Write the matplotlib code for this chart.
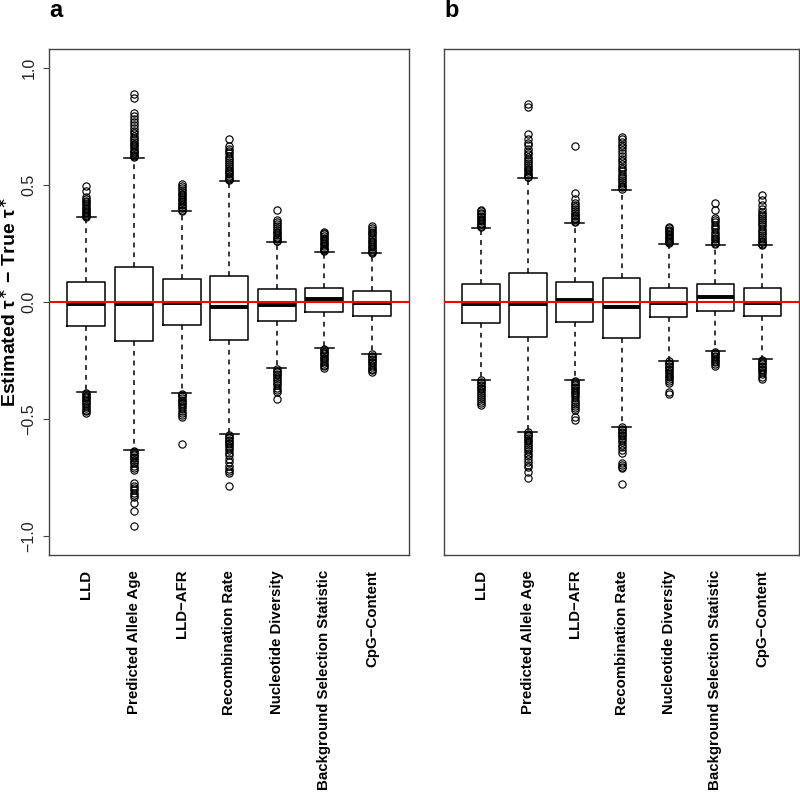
import matplotlib
matplotlib.use("Agg")
import matplotlib.pyplot as plt

plt.rcParams["font.family"] = ["Liberation Sans", "DejaVu Sans"]
plt.rcParams["mathtext.fontset"] = "dejavusans"

categories = [
    "LLD",
    "Predicted Allele Age",
    "LLD\u2212AFR",
    "Recombination Rate",
    "Nucleotide Diversity",
    "Background Selection Statistic",
    "CpG\u2212Content",
]

# panel a: box statistics
a_q1 = [-0.103, -0.166, -0.099, -0.161, -0.082, -0.045, -0.060]
a_med = [-0.009, -0.009, -0.005, -0.023, -0.013, 0.011, -0.006]
a_q3 = [0.083, 0.147, 0.096, 0.109, 0.053, 0.061, 0.046]
a_lo = [-0.384, -0.633, -0.389, -0.566, -0.284, -0.197, -0.221]
a_hi = [0.361, 0.616, 0.388, 0.516, 0.257, 0.214, 0.207]
a_fliers = [
    [0.495, 0.472, 0.449, 0.44, 0.432, 0.425, 0.418, 0.41, 0.403, 0.396, 0.39, 0.384, 0.378, 0.372, 0.367, 0.363,
     -0.39, -0.395, -0.40, -0.406, -0.412, -0.418, -0.424, -0.43, -0.437, -0.444, -0.452, -0.46, -0.468, -0.476],
    [0.888, 0.869, 0.808, 0.795, 0.78, 0.768, 0.755, 0.742, 0.73, 0.72, 0.71, 0.70, 0.692, 0.684, 0.676, 0.668,
     0.66, 0.653, 0.646, 0.64, 0.634, 0.628, 0.622, 0.618,
     -0.637, -0.643, -0.65, -0.656, -0.662, -0.668, -0.675, -0.682, -0.69, -0.70, -0.71, -0.718,
     -0.775, -0.785, -0.795, -0.805, -0.815, -0.825, -0.835, -0.86, -0.895, -0.957],
    [0.503, 0.495, 0.487, 0.478, 0.47, 0.462, 0.455, 0.448, 0.441, 0.434, 0.427, 0.42, 0.413, 0.406, 0.4, 0.394, 0.39,
     -0.392, -0.398, -0.404, -0.41, -0.417, -0.424, -0.431, -0.438, -0.446, -0.455, -0.465, -0.475, -0.485, -0.493,
     -0.608],
    [0.694, 0.665, 0.655, 0.645, 0.634, 0.624, 0.614, 0.605, 0.596, 0.588, 0.58, 0.572, 0.565, 0.558, 0.551, 0.544,
     0.537, 0.53, 0.524, 0.519,
     -0.57, -0.576, -0.582, -0.588, -0.595, -0.602, -0.609, -0.617, -0.625, -0.634, -0.644, -0.656, -0.67, -0.685,
     -0.70, -0.712, -0.722, -0.732, -0.785],
    [0.391, 0.35, 0.34, 0.331, 0.322, 0.314, 0.306, 0.299, 0.292, 0.285, 0.279, 0.273, 0.267, 0.262, 0.259,
     -0.288, -0.294, -0.3, -0.307, -0.314, -0.321, -0.329, -0.337, -0.346, -0.356, -0.366, -0.376, -0.384, -0.415],
    [0.300, 0.294, 0.288, 0.281, 0.274, 0.267, 0.26, 0.253, 0.246, 0.239, 0.232, 0.226, 0.22, 0.216,
     -0.2, -0.206, -0.212, -0.218, -0.224, -0.231, -0.238, -0.245, -0.252, -0.26, -0.268, -0.276, -0.284],
    [0.325, 0.316, 0.308, 0.3, 0.292, 0.284, 0.276, 0.268, 0.261, 0.254, 0.247, 0.24, 0.233, 0.226, 0.219, 0.213, 0.209,
     -0.224, -0.23, -0.236, -0.242, -0.249, -0.256, -0.263, -0.27, -0.278, -0.286, -0.293, -0.298],
]

# panel b: box statistics
b_q1 = [-0.089, -0.149, -0.085, -0.154, -0.065, -0.039, -0.060]
b_med = [-0.009, -0.011, 0.008, -0.023, -0.006, 0.019, -0.006]
b_q3 = [0.075, 0.125, 0.086, 0.100, 0.061, 0.075, 0.061]
b_lo = [-0.332, -0.554, -0.334, -0.533, -0.251, -0.209, -0.245]
b_hi = [0.317, 0.530, 0.338, 0.478, 0.246, 0.243, 0.243]
b_fliers = [
    [0.392, 0.386, 0.38, 0.374, 0.368, 0.362, 0.356, 0.35, 0.344, 0.338, 0.332, 0.326, 0.32,
     -0.335, -0.341, -0.347, -0.353, -0.36, -0.367, -0.374, -0.381, -0.389, -0.397, -0.405, -0.414, -0.423, -0.432,
     -0.44],
    [0.845, 0.831, 0.715, 0.695, 0.68, 0.668, 0.655, 0.642, 0.63, 0.62, 0.61, 0.6, 0.592, 0.584, 0.576, 0.569, 0.562,
     0.555, 0.548, 0.541, 0.535, 0.532,
     -0.557, -0.563, -0.569, -0.575, -0.582, -0.589, -0.596, -0.604, -0.612, -0.62, -0.629, -0.638, -0.648, -0.66,
     -0.672, -0.684, -0.696, -0.704, -0.728, -0.751],
    [0.667, 0.466, 0.438, 0.421, 0.413, 0.405, 0.397, 0.389, 0.381, 0.373, 0.366, 0.359, 0.352, 0.346, 0.341,
     -0.337, -0.343, -0.349, -0.355, -0.362, -0.369, -0.376, -0.383, -0.391, -0.399, -0.408, -0.417, -0.426, -0.436,
     -0.446, -0.455, -0.462, -0.493, -0.505],
    [0.705, 0.694, 0.683, 0.672, 0.661, 0.649, 0.636, 0.624, 0.612, 0.6, 0.589, 0.578, 0.567, 0.557, 0.547, 0.538,
     0.529, 0.52, 0.512, 0.504, 0.496, 0.489, 0.482,
     -0.536, -0.542, -0.548, -0.554, -0.561, -0.568, -0.575, -0.583, -0.591, -0.6, -0.61, -0.62, -0.632, -0.647,
     -0.69, -0.697, -0.704, -0.711, -0.778],
    [0.321, 0.315, 0.309, 0.303, 0.297, 0.291, 0.285, 0.279, 0.273, 0.267, 0.261, 0.255, 0.25,
     -0.254, -0.26, -0.266, -0.272, -0.278, -0.285, -0.292, -0.299, -0.307, -0.315, -0.323, -0.331, -0.339, -0.348,
     -0.384, -0.395],
    [0.424, 0.392, 0.36, 0.35, 0.34, 0.33, 0.32, 0.31, 0.3, 0.29, 0.282, 0.274, 0.267, 0.26, 0.253, 0.247,
     -0.212, -0.218, -0.224, -0.23, -0.237, -0.244, -0.251, -0.258, -0.265, -0.273],
    [0.456, 0.435, 0.413, 0.395, 0.385, 0.376, 0.367, 0.358, 0.349, 0.34, 0.331, 0.322, 0.313, 0.304, 0.295, 0.286,
     0.278, 0.27, 0.262, 0.255, 0.249, 0.245,
     -0.248, -0.254, -0.26, -0.266, -0.272, -0.279, -0.286, -0.293, -0.301, -0.31, -0.32, -0.33],
]

y_ticks = [-1.0, -0.5, 0.0, 0.5, 1.0]
y_ticklabels = ["\u22121.0", "\u22120.5", "0.0", "0.5", "1.0"]


def make_stats(q1, med, q3, lo, hi, fliers):
    return [
        {"q1": q1[i], "med": med[i], "q3": q3[i], "whislo": lo[i], "whishi": hi[i],
         "fliers": fliers[i], "label": categories[i]}
        for i in range(len(categories))
    ]


def draw_panel(axis, stats, letter):
    axis.bxp(
        stats,
        positions=range(1, len(stats) + 1),
        widths=0.8,
        showfliers=True,
        boxprops={"color": "black", "linewidth": 1.1},
        medianprops={"color": "black", "linewidth": 2.8, "solid_capstyle": "butt"},
        whiskerprops={"color": "black", "linewidth": 1.1, "linestyle": (0, (3.2, 3.2))},
        capprops={"color": "black", "linewidth": 1.1},
        capwidths=0.4,
        flierprops={"marker": "o", "markerfacecolor": "none", "markeredgecolor": "black",
                    "markersize": 5.2, "markeredgewidth": 0.85},
    )
    axis.axhline(0.0, color="red", linewidth=1.5, zorder=5)
    axis.set_xlim(0.22, 7.78)
    axis.set_ylim(-1.079, 1.080)
    axis.set_xticks(range(1, len(categories) + 1))
    axis.set_xticklabels(categories, rotation=90, fontweight="bold", fontsize=10.8, va="top")
    axis.tick_params(axis="x", length=0, pad=11)
    for spine in axis.spines.values():
        spine.set_color("#444444")
        spine.set_linewidth(1.0)
    axis.text(0.0, 1.063, letter, transform=axis.transAxes, ha="left", va="baseline",
              fontsize=17, fontweight="bold")


figure = plt.figure(figsize=(8.0, 8.05), dpi=100)
W, H = 800.0, 805.0
top_px, bottom_px = 49.0, 554.5
axis_a = figure.add_axes([49.3 / W, 1 - bottom_px / H, (409.0 - 49.3) / W, (bottom_px - top_px) / H])
axis_b = figure.add_axes([444.3 / W, 1 - bottom_px / H, (799.0 - 444.3) / W, (bottom_px - top_px) / H])

draw_panel(axis_a, make_stats(a_q1, a_med, a_q3, a_lo, a_hi, a_fliers), "a")
draw_panel(axis_b, make_stats(b_q1, b_med, b_q3, b_lo, b_hi, b_fliers), "b")

axis_a.set_yticks(y_ticks)
axis_a.set_yticklabels(y_ticklabels, rotation=90, va="center", fontsize=11.5, color="#222222")
axis_a.tick_params(axis="y", length=4.3, width=0.8, color="#444444", pad=5)
axis_b.set_yticks([])

figure.text(9.0 / W, 1 - 301.8 / H, "Estimated \u03c4$^{\\ast}$ \u2212 True \u03c4$^{\\ast}$",
            rotation=90, ha="center", va="center", fontsize=14, fontweight="bold")

figure.savefig("out.png", dpi=100)
